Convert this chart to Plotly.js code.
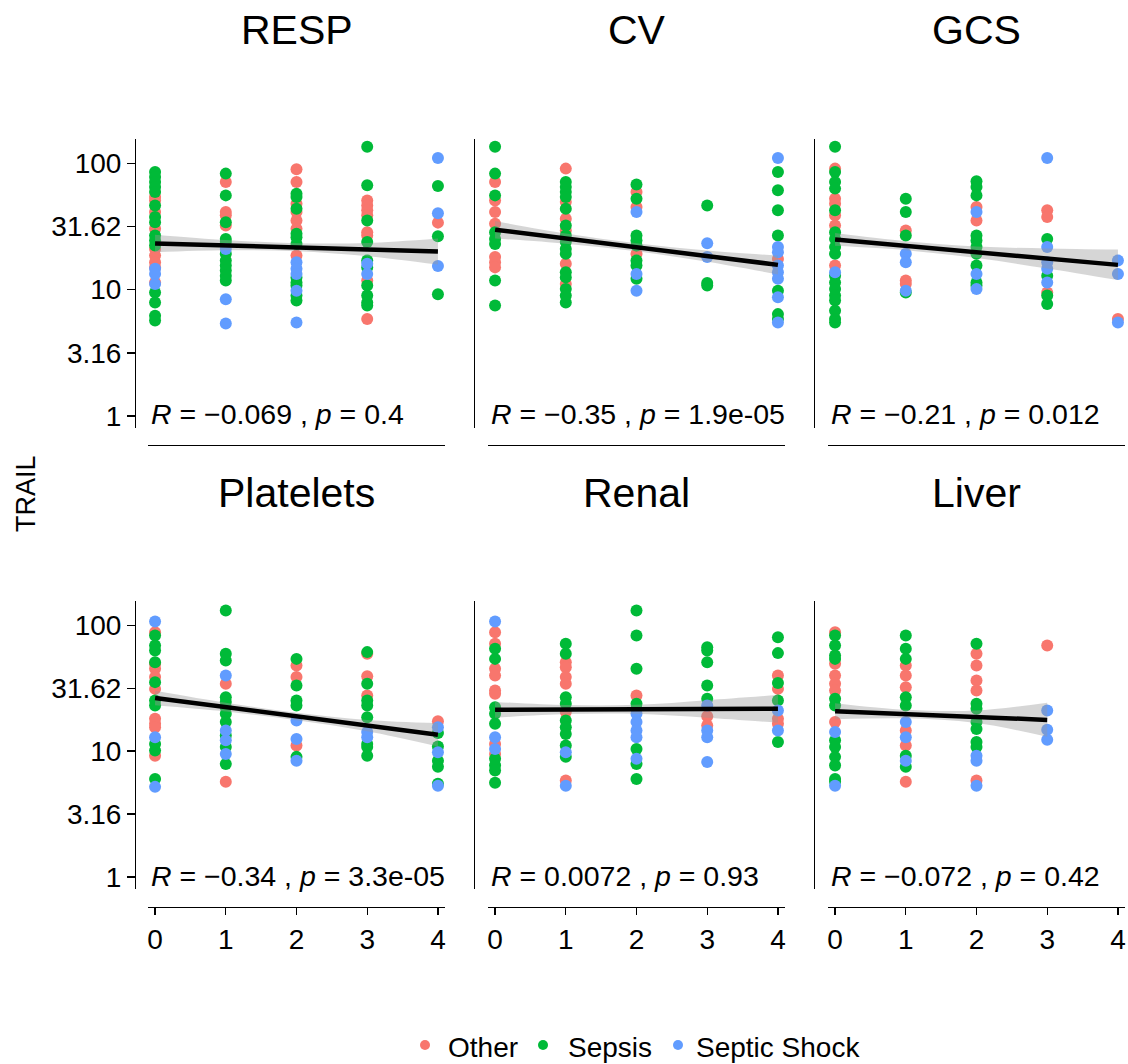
<!DOCTYPE html>
<html>
<head>
<meta charset="utf-8">
<script src="https://cdn.plot.ly/plotly-3.0.1.min.js"></script>
<style>html,body{margin:0;padding:0;background:#fff;}#chart{width:1128px;height:1064px;}</style>
</head>
<body>
<div id="chart"></div>
<script>
const groups = ['Other', 'Sepsis', 'Septic Shock'];
const groupColors = ['#F8766D', '#00BA38', '#619CFF'];
const panels = ['RESP', 'CV', 'GCS', 'Platelets', 'Renal', 'Liver'];
const rValues = ['−0.069', '−0.35', '−0.21', '−0.34', '0.0072', '−0.072'];
const pValues = ['0.4', '1.9e-05', '0.012', '3.3e-05', '0.93', '0.42'];
const yTickVals = [1, 3.16, 10, 31.62, 100];
const yTickText = ['1', '3.16', '10', '31.62', '100'];
const xTickVals = [0, 1, 2, 3, 4];
const yTitle = 'TRAIL';

// RESP
const RESP_other_x = [0,0,0,0,0,0,0,0,0, 1,1,1,1, 2,2,2,2,2,2,2, 3,3,3,3,3,3,3,3, 4];
const RESP_other_y = [54,50.8,41.1,30.3,21,18.6,16.5,15,11.4, 71.1,41.1,38.7,32.2, 89.8,71.1,47.8,41.1,35.3,30.3,18.6, 50.8,46.4,42.4,38.7,28.5,26.8,11.8,5.85, 33.9];
const RESP_sepsis_x = [0,0,0,0,0,0,0,0,0,0,0,0,0,0,0, 1,1,1,1,1,1,1,1,1,1,1, 2,2,2,2,2,2,2,2,2,2,2, 3,3,3,3,3,3,3,3,3,3, 4,4,4];
const RESP_sepsis_y = [85.3,78,71.1,64.9,59.2,46.4,37.5,34.2,26.8,24.5,22.3,9.5,7.9,6.2,5.7, 82.8,55.7,34.2,25.2,23.8,19.2,17,15.5,14.2,12.9,11.8, 57.4,54,43.6,27.7,26,23,12.5,11.4,10.8,9,8.2, 135,66.9,35.3,23.8,17,15,10.8,9,7.9,7.5, 66,26.5,9.2];
const RESP_shock_x = [0,0,0, 1,1,1, 2,2,2,2,2, 3,3, 4,4,4];
const RESP_shock_y = [14.6,13.3,11.1, 21,8.4,5.4, 16.5,14.6,13.3,9.8,5.5, 16,13.3, 110,40.3,15.4];

// CV
const CV_other_x = [0,0,0,0,0,0,0, 1,1,1,1,1,1, 2,2,2, 4];
const CV_other_y = [71.1,50.8,41.1,33.2,18.1,16.5,15, 90.7,49.3,36.4,29.4,16,11.1, 59.2,45,19.2, 17.5];
const CV_sepsis_x = [0,0,0,0,0,0,0,0, 1,1,1,1,1,1,1,1,1,1,1,1,1,1,1, 2,2,2,2,2,2,2,2, 3,3,3, 4,4,4,4,4,4,4];
const CV_sepsis_y = [135,82.8,55.7,28.5,25.2,23,11.8,7.5, 71.1,64.9,59.2,54,43.6,32.2,26.8,23.8,21,19.2,13.7,12.5,10.1,9,7.9, 67.8,52.4,26.8,24.5,22.3,17,15.5,12.2, 46.4,11.3,10.8, 85.3,61.1,42.4,26.8,9.8,6.4,5.85];
const CV_shock_x = [2,2,2, 3,3, 4,4,4,4,4,4,4,4];
const CV_shock_y = [41.1,13.3,9.8, 23.3,18.1, 110,21.7,19.8,15.5,13.7,12.2,8.7,5.5];

// GCS
const GCS_other_x = [0,0,0,0,0,0, 1,1,1, 2,2, 3,3,3, 4];
const GCS_other_y = [90.7,52.4,47.8,38.7,32.2,15.5, 29.4,11.8,11.1, 45,35.3, 42.4,37.5,9.5, 5.85];
const GCS_sepsis_x = [0,0,0,0,0,0,0,0,0,0,0,0,0,0,0,0,0, 1,1,1,1, 2,2,2,2,2,2,2,2,2,2, 3,3,3,3];
const GCS_sepsis_y = [135,85.3,71.1,63,42.4,28.5,25.2,21.7,19.2,12.9,11.4,10.1,9,8.2,6.8,5.85,5.5, 52.4,41.1,26.8,9.5, 72,64.9,55.7,26.8,24.5,21.7,19.2,15.5,11.4,10.8, 25.2,12.9,9,7.7];
const GCS_shock_x = [0, 1,1,1, 2,2,2, 3,3,3,3,3, 4,4,4];
const GCS_shock_y = [13.7, 19.2,16.5,9.8, 41.1,13.3,10.1, 110,21.7,16.5,14.6,11.4, 17,13.3,5.5];

// Platelets
const Platelets_other_x = [0,0,0,0,0,0,0,0,0, 1,1, 2,2,2, 3,3,3, 4];
const Platelets_other_y = [88,49.3,45,38.7,31.2,18.1,16.5,15.5,9.2, 34.2,5.7, 47.8,38.7,11.1, 59.2,39.3,27.7, 17.3];
const Platelets_sepsis_x = [0,0,0,0,0,0,0,0,0,0, 1,1,1,1,1,1,1,1,1,1,1, 2,2,2,2,2, 3,3,3,3,3,3,3,3, 4,4,4,4,4];
const Platelets_sepsis_y = [82.8,69,63,50.8,35.3,25.2,23,11.4,10.1,6, 131,59.2,52.4,26.8,24.5,22.3,19.8,17,13.3,10.8,7.9, 54,33.2,25.2,23,9, 61.1,34.2,25.2,23,18.6,11.4,10.8,9.2, 13.9,10.9,8.4,7.5,5.5];
const Platelets_shock_x = [0,0,0, 1,1,1,1, 2,2,2, 3,3, 4,4,4];
const Platelets_shock_y = [107,12.9,5.2, 39.9,14.6,12.2,9.5, 17.5,12.5,8.4, 14.2,12.9, 15.5,9.8,5.3];

// Renal
const Renal_other_x = [0,0,0,0,0,0,0,0, 1,1,1,1,1,1, 2, 3,3, 4,4,4,4];
const Renal_other_y = [88,71.1,45,39.9,30.3,28.5,11.4,9.5, 50.8,46.4,38.7,34.2,20.4,5.85, 27.7, 18.9,16, 39.9,31.2,18.1,16.5];
const Renal_sepsis_x = [0,0,0,0,0,0,0,0,0, 1,1,1,1,1,1,1,1,1, 2,2,2,2,2,2,2,2, 3,3,3,3,3, 4,4,4,4,4];
const Renal_sepsis_y = [64.9,54,22.3,19.8,16.5,8.7,7.7,7,5.6, 71.1,59.2,26.8,23.8,17.5,15.5,13.7,11.1,9, 131,82.8,45,23.8,21.7,10.4,7.9,6, 66.9,63,50.8,33.2,26, 80.3,60,34.7,25.2,11.8];
const Renal_shock_x = [0,0,0, 1,1, 2,2,2,2,2, 3,3,3,3, 4,4];
const Renal_shock_y = [107,12.9,10.4, 9.8,5.3, 19.8,17,14.6,12.9,8.7, 23,14.6,12.9,8.2, 21,14.6];

// Liver
const Liver_other_x = [0,0,0,0,0,0, 1,1,1,1,1,1, 2,2,2,2,2, 3];
const Liver_other_y = [88,49.3,39.9,34.2,30.3,17, 47.8,39.9,32.2,14.6,11.1,5.7, 59.2,47.8,36.4,30.3,5.85, 69];
const Liver_sepsis_x = [0,0,0,0,0,0,0,0,0,0,0,0, 1,1,1,1,1,1,1, 2,2,2,2,2,2,2];
const Liver_sepsis_y = [82.8,69,57.4,54,26,23,12.2,10.8,9,7.7,6,5.7, 82.8,64.9,54,26.8,23,9.2,7.5, 71.1,23.8,21.7,17,15,11.8,10.8];
const Liver_shock_x = [0,0, 1,1,1, 2,2,2, 3,3,3];
const Liver_shock_y = [14.2,5.3, 17,12.9,8.4, 9.2,8.4,5.3, 21,14.8,12.3];

// regression fits
const fit_x = [0, 1, 2, 3, 4];
const fit_x_liver = [0, 1, 2, 3];
const RESP_fit = [23.2, 22.5, 21.7, 20.8, 20.0];
const RESP_hi = [27.2, 24.7, 23.3, 23.4, 25.4];
const RESP_lo = [19.8, 20.5, 20.1, 18.4, 15.8];
const CV_fit = [29.8, 25.4, 21.6, 18.4, 15.7];
const CV_hi = [34.9, 27.8, 23.3, 20.4, 18.6];
const CV_lo = [25.4, 23.1, 20.1, 16.6, 13.2];
const GCS_fit = [24.9, 22.2, 19.8, 17.6, 15.7];
const GCS_hi = [28.0, 24.1, 21.9, 21.2, 20.8];
const GCS_lo = [22.2, 20.5, 17.8, 14.7, 11.9];
const Platelets_fit = [26.4, 22.3, 18.8, 16.0, 13.5];
const Platelets_hi = [30.1, 24.2, 20.2, 17.7, 16.7];
const Platelets_lo = [23.1, 20.6, 17.6, 14.4, 10.9];
const Renal_fit = [21.3, 21.4, 21.5, 21.6, 21.7];
const Renal_hi = [24.6, 23.2, 23.3, 25.4, 27.9];
const Renal_lo = [18.4, 19.7, 19.8, 18.4, 16.8];
const Liver_fit = [20.7, 19.7, 18.7, 17.7];
const Liver_hi = [24.0, 21.3, 21.0, 24.2];
const Liver_lo = [17.9, 18.2, 16.7, 13.0];

const panelPoints = [
  [[RESP_other_x, RESP_other_y], [RESP_sepsis_x, RESP_sepsis_y], [RESP_shock_x, RESP_shock_y]],
  [[CV_other_x, CV_other_y], [CV_sepsis_x, CV_sepsis_y], [CV_shock_x, CV_shock_y]],
  [[GCS_other_x, GCS_other_y], [GCS_sepsis_x, GCS_sepsis_y], [GCS_shock_x, GCS_shock_y]],
  [[Platelets_other_x, Platelets_other_y], [Platelets_sepsis_x, Platelets_sepsis_y], [Platelets_shock_x, Platelets_shock_y]],
  [[Renal_other_x, Renal_other_y], [Renal_sepsis_x, Renal_sepsis_y], [Renal_shock_x, Renal_shock_y]],
  [[Liver_other_x, Liver_other_y], [Liver_sepsis_x, Liver_sepsis_y], [Liver_shock_x, Liver_shock_y]]
];
const panelFits = [
  [fit_x, RESP_fit, RESP_hi, RESP_lo],
  [fit_x, CV_fit, CV_hi, CV_lo],
  [fit_x, GCS_fit, GCS_hi, GCS_lo],
  [fit_x, Platelets_fit, Platelets_hi, Platelets_lo],
  [fit_x, Renal_fit, Renal_hi, Renal_lo],
  [fit_x_liver, Liver_fit, Liver_hi, Liver_lo]
];

const W = 1128, H = 1064;
const FONT = 'Liberation Sans, Arial, sans-serif';
const px = v => v / W;
const py = v => 1 - v / H;
const xDom = [[148, 445], [488, 785], [828, 1125]];
const yAxisPos = [135, 474, 814];
const yDom = [[139, 428], [601, 889]];
const xAxisPos = [445, 907];
const titleY = [30, 493];
const statY = [414, 876];

const data = [];
const layout = {
  width: W, height: H,
  margin: {l: 0, r: 0, t: 0, b: 0},
  paper_bgcolor: '#fff', plot_bgcolor: 'rgba(0,0,0,0)',
  showlegend: false,
  font: {family: FONT, color: '#000'},
  annotations: [], shapes: []
};

panels.forEach((name, i) => {
  const row = Math.floor(i / 3), col = i % 3;
  const sfx = i === 0 ? '' : String(i + 1);
  const xa = 'x' + sfx, ya = 'y' + sfx;
  panelPoints[i].forEach((pts, g) => {
    data.push({
      type: 'scatter', mode: 'markers', x: pts[0], y: pts[1],
      xaxis: xa, yaxis: ya, name: groups[g],
      marker: {color: groupColors[g], size: 12, line: {width: 0}},
      hoverinfo: 'skip'
    });
  });
  const f = panelFits[i];
  data.push({type: 'scatter', mode: 'lines', x: f[0], y: f[2], xaxis: xa, yaxis: ya,
    line: {width: 0, shape: 'spline'}, hoverinfo: 'skip'});
  data.push({type: 'scatter', mode: 'lines', x: f[0], y: f[3], xaxis: xa, yaxis: ya,
    line: {width: 0, shape: 'spline'}, fill: 'tonexty', fillcolor: 'rgba(153,153,153,0.4)', hoverinfo: 'skip'});
  data.push({type: 'scatter', mode: 'lines', x: f[0], y: f[1], xaxis: xa, yaxis: ya,
    line: {width: 4.5, color: '#000'}, hoverinfo: 'skip'});

  layout['xaxis' + sfx] = {
    domain: [px(xDom[col][0]), px(xDom[col][1])],
    range: [-0.1, 4.1], anchor: 'free', position: py(xAxisPos[row]),
    showline: true, linecolor: '#000', linewidth: 1.3, showgrid: false, zeroline: false,
    tickvals: xTickVals, ticks: row === 1 ? 'outside' : '', ticklen: 7, tickwidth: 1.3, tickcolor: '#000',
    showticklabels: row === 1, tickfont: {size: 28, color: '#000', family: FONT}, automargin: false
  };
  layout['yaxis' + sfx] = {
    type: 'log', domain: [py(yDom[row][1]), py(yDom[row][0])],
    range: [-0.095, 2.192], anchor: 'free', position: px(yAxisPos[col]),
    showline: true, linecolor: '#000', linewidth: 1.3, showgrid: false, zeroline: false,
    tickvals: yTickVals, ticktext: yTickText,
    ticks: col === 0 ? 'outside' : '', ticklen: 8, tickwidth: 1.3, tickcolor: '#000',
    showticklabels: col === 0, tickfont: {size: 28, color: '#000', family: FONT}, automargin: false
  };
  layout.annotations.push({
    xref: 'paper', yref: 'paper', x: px((xDom[col][0] + xDom[col][1]) / 2), y: py(titleY[row]),
    xanchor: 'center', yanchor: 'middle', text: name, showarrow: false,
    font: {size: 41, color: '#000', family: FONT}
  });
  layout.annotations.push({
    xref: 'paper', yref: 'paper', x: px(xDom[col][0] + 1), y: py(statY[row]),
    xanchor: 'left', yanchor: 'middle', showarrow: false,
    text: '<i>R</i> = ' + rValues[i] + ' , <i>p</i> = ' + pValues[i],
    font: {size: 28.5, color: '#000', family: FONT}
  });
});

layout.annotations.push({
  xref: 'paper', yref: 'paper', x: px(26), y: py(494), xanchor: 'center', yanchor: 'middle',
  text: yTitle, textangle: -90, showarrow: false, font: {size: 27, color: '#000', family: FONT}
});

// legend
const legDotX = [425, 543, 678];
const legTextX = [446, 566, 694];
groups.forEach((g, k) => {
  const r = 5;
  layout.shapes.push({type: 'circle', xref: 'paper', yref: 'paper',
    x0: px(legDotX[k] - r), x1: px(legDotX[k] + r), y0: py(1045 + r), y1: py(1045 - r),
    fillcolor: groupColors[k], line: {width: 0}});
  layout.annotations.push({xref: 'paper', yref: 'paper', x: px(legTextX[k]), y: py(1047),
    xanchor: 'left', yanchor: 'middle', text: g, showarrow: false,
    font: {size: 28, color: '#000', family: FONT}});
});

Plotly.newPlot('chart', data, layout, {staticPlot: true});
</script>
</body>
</html>
